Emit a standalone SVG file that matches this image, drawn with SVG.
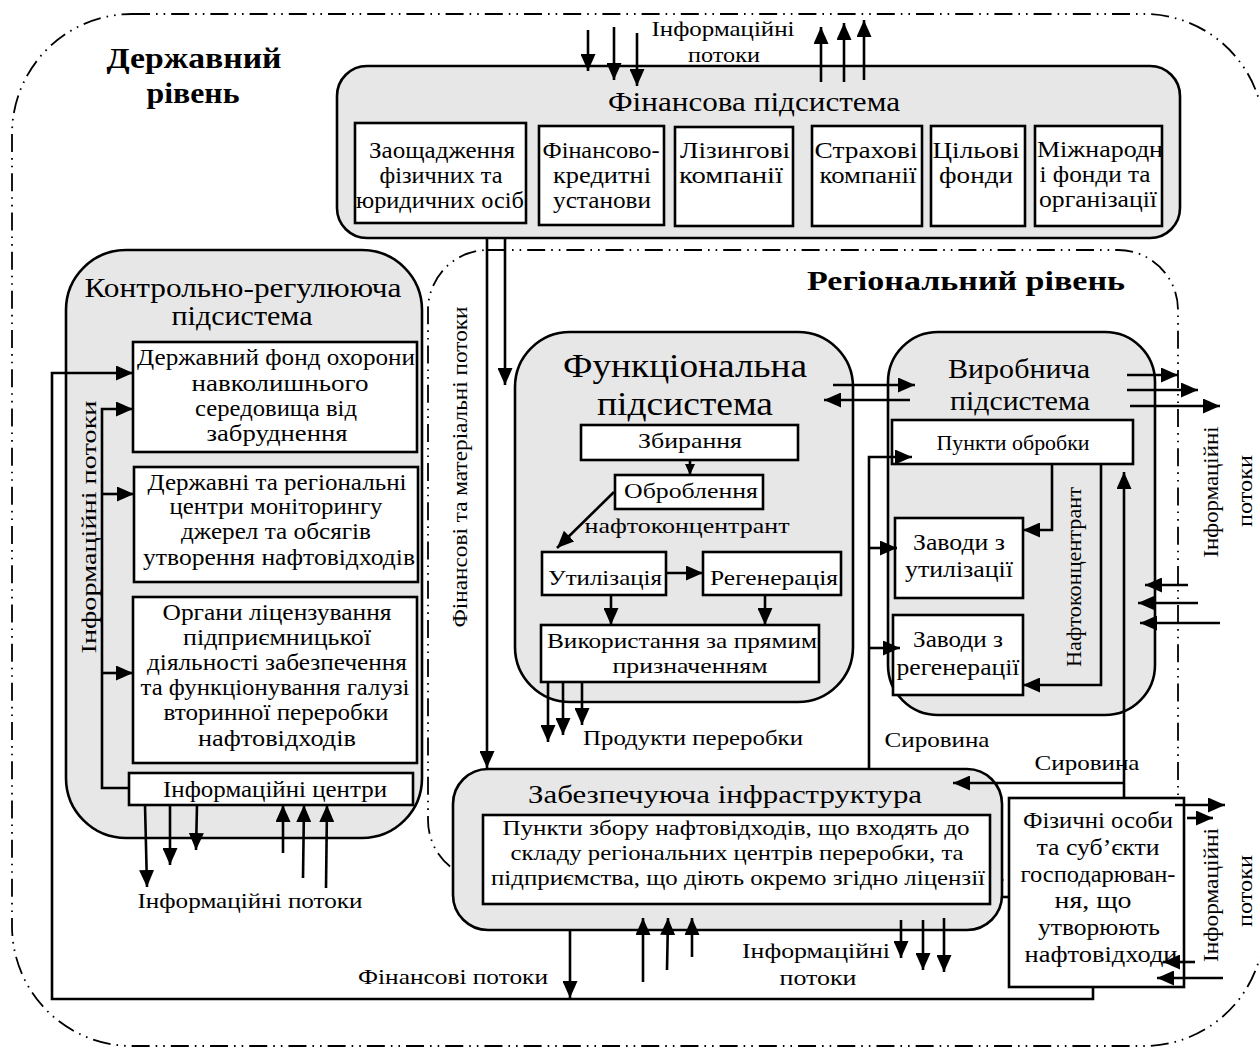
<svg xmlns="http://www.w3.org/2000/svg" width="1259" height="1051" viewBox="0 0 1259 1051">
  <style>
    text { font-family: "Liberation Serif", "Times New Roman", serif; fill: #000; }
    .t22 { font-size: 23px; }
    .t21 { font-size: 22px; }
    .t20 { font-size: 21px; }
    .title { font-size: 27px; }
    .lvlname { font-size: 29px; font-weight: bold; }
    .sub { fill: #e7e7e7; stroke: #000; stroke-width: 2.6; }
    .box { fill: #fff; stroke: #000; stroke-width: 2.6; }
    .lvl { fill: none; stroke: #000; stroke-width: 1.8; stroke-dasharray: 18 6 1.6 6 1.6 6; }
    .ln { fill: none; stroke: #000; stroke-width: 2.6; }
    .ar { marker-end: url(#ah); }
    .ars { marker-end: url(#ahs); }
  </style>
  <defs>
    <marker id="ah" markerUnits="userSpaceOnUse" markerWidth="17" markerHeight="15" refX="17" refY="7.5" orient="auto">
      <path d="M0,0 L17,7.5 L0,15 Z" fill="#000"/>
    </marker>
    <marker id="ahs" markerUnits="userSpaceOnUse" markerWidth="11" markerHeight="10" refX="11" refY="5" orient="auto">
      <path d="M0,0 L11,5 L0,10 Z" fill="#000"/>
    </marker>
  </defs>

  <rect width="1259" height="1051" fill="#fff"/>

  <!-- level boundaries -->
  <g id="state-level">
    <rect class="lvl" x="12" y="14" width="1252" height="1032" rx="120"/>
    <text class="lvlname" x="194" y="68" text-anchor="middle" textLength="175" lengthAdjust="spacingAndGlyphs">Державний</text>
    <text class="lvlname" x="193" y="103" text-anchor="middle" textLength="93" lengthAdjust="spacingAndGlyphs">рівень</text>
  </g>
  <g id="regional-level">
    <rect class="lvl" x="428" y="250" width="750" height="630" rx="60"/>
    <text class="lvlname" style="font-size:27px" x="966" y="290" text-anchor="middle" textLength="318" lengthAdjust="spacingAndGlyphs">Регіональний рівень</text>
  </g>

  <!-- financial subsystem -->
  <g id="financial">
    <rect class="sub" x="337" y="66" width="843" height="172" rx="30"/>
    <text class="title" x="754" y="111" text-anchor="middle" textLength="292" lengthAdjust="spacingAndGlyphs">Фінансова підсистема</text>
    <g id="fin-savings">
      <rect class="box" x="355" y="123" width="171" height="100"/>
      <text class="t22" x="442" y="158" text-anchor="middle" textLength="146" lengthAdjust="spacingAndGlyphs">Заощадження</text>
      <text class="t22" x="441" y="183" text-anchor="middle" textLength="123" lengthAdjust="spacingAndGlyphs">фізичних та</text>
      <text class="t22" x="440" y="208" text-anchor="middle" textLength="168" lengthAdjust="spacingAndGlyphs">юридичних осіб</text>
    </g>
    <g id="fin-credit">
      <rect class="box" x="539" y="126" width="125" height="99"/>
      <text class="t22" x="601" y="158" text-anchor="middle" textLength="117" lengthAdjust="spacingAndGlyphs">Фінансово-</text>
      <text class="t22" x="602" y="183" text-anchor="middle" textLength="98" lengthAdjust="spacingAndGlyphs">кредитні</text>
      <text class="t22" x="602" y="208" text-anchor="middle" textLength="98" lengthAdjust="spacingAndGlyphs">установи</text>
    </g>
    <g id="fin-leasing">
      <rect class="box" x="675" y="127" width="118" height="99"/>
      <text class="t22" x="735" y="158" text-anchor="middle" textLength="110" lengthAdjust="spacingAndGlyphs">Лізингові</text>
      <text class="t22" x="731" y="183" text-anchor="middle" textLength="104" lengthAdjust="spacingAndGlyphs">компанії</text>
    </g>
    <g id="fin-insurance">
      <rect class="box" x="812" y="126" width="110" height="100"/>
      <text class="t22" x="866" y="158" text-anchor="middle" textLength="103" lengthAdjust="spacingAndGlyphs">Страхові</text>
      <text class="t22" x="868" y="183" text-anchor="middle" textLength="97" lengthAdjust="spacingAndGlyphs">компанії</text>
    </g>
    <g id="fin-target">
      <rect class="box" x="931" y="126" width="94" height="100"/>
      <text class="t22" x="976" y="158" text-anchor="middle" textLength="87" lengthAdjust="spacingAndGlyphs">Цільові</text>
      <text class="t22" x="976" y="183" text-anchor="middle" textLength="74" lengthAdjust="spacingAndGlyphs">фонди</text>
    </g>
    <g id="fin-international">
      <rect class="box" x="1035" y="126" width="127" height="100"/>
      <text class="t22" x="1100" y="157" text-anchor="middle" textLength="126" lengthAdjust="spacingAndGlyphs">Міжнародн</text>
      <text class="t22" x="1095" y="182" text-anchor="middle" textLength="111" lengthAdjust="spacingAndGlyphs">і фонди та</text>
      <text class="t22" x="1098" y="207" text-anchor="middle" textLength="118" lengthAdjust="spacingAndGlyphs">організації</text>
    </g>
  </g>

  <!-- control and regulation subsystem -->
  <g id="control">
    <rect class="sub" x="66" y="250" width="356" height="588" rx="60"/>
    <text class="title" x="243" y="297" text-anchor="middle" textLength="317" lengthAdjust="spacingAndGlyphs">Контрольно-регулююча</text>
    <text class="title" x="242" y="325" text-anchor="middle" textLength="141" lengthAdjust="spacingAndGlyphs">підсистема</text>
    <g id="ctl-fund">
      <rect class="box" x="133" y="342" width="284" height="110"/>
      <text class="t22" x="276" y="365" text-anchor="middle" textLength="278" lengthAdjust="spacingAndGlyphs">Державний фонд охорони</text>
      <text class="t22" x="280" y="391" text-anchor="middle" textLength="177" lengthAdjust="spacingAndGlyphs">навколишнього</text>
      <text class="t22" x="276" y="416" text-anchor="middle" textLength="162" lengthAdjust="spacingAndGlyphs">середовища від</text>
      <text class="t22" x="277" y="441" text-anchor="middle" textLength="141" lengthAdjust="spacingAndGlyphs">забруднення</text>
    </g>
    <g id="ctl-monitoring">
      <rect class="box" x="134" y="467" width="284" height="115"/>
      <text class="t22" x="277" y="490" text-anchor="middle" textLength="259" lengthAdjust="spacingAndGlyphs">Державні та регіональні</text>
      <text class="t22" x="276" y="514" text-anchor="middle" textLength="213" lengthAdjust="spacingAndGlyphs">центри моніторингу</text>
      <text class="t22" x="276" y="539" text-anchor="middle" textLength="190" lengthAdjust="spacingAndGlyphs">джерел та обсягів</text>
      <text class="t22" x="279" y="565" text-anchor="middle" textLength="272" lengthAdjust="spacingAndGlyphs">утворення нафтовідходів</text>
    </g>
    <g id="ctl-licensing">
      <rect class="box" x="133" y="597" width="284" height="166"/>
      <text class="t22" x="277" y="620" text-anchor="middle" textLength="229" lengthAdjust="spacingAndGlyphs">Органи ліцензування</text>
      <text class="t22" x="277" y="645" text-anchor="middle" textLength="188" lengthAdjust="spacingAndGlyphs">підприємницької</text>
      <text class="t22" x="277" y="670" text-anchor="middle" textLength="260" lengthAdjust="spacingAndGlyphs">діяльності забезпечення</text>
      <text class="t22" x="275" y="695" text-anchor="middle" textLength="269" lengthAdjust="spacingAndGlyphs">та функціонування галузі</text>
      <text class="t22" x="276" y="720" text-anchor="middle" textLength="225" lengthAdjust="spacingAndGlyphs">вторинної переробки</text>
      <text class="t22" x="277" y="746" text-anchor="middle" textLength="158" lengthAdjust="spacingAndGlyphs">нафтовідходів</text>
    </g>
    <g id="ctl-infocenters">
      <rect class="box" x="129" y="773" width="284" height="32"/>
      <text class="t22" x="275" y="797" text-anchor="middle" textLength="224" lengthAdjust="spacingAndGlyphs">Інформаційні центри</text>
    </g>
    <text class="t21" transform="translate(89,527) rotate(-90)" x="0" y="7" text-anchor="middle" textLength="253" lengthAdjust="spacingAndGlyphs">Інформаційні потоки</text>
  </g>

  <!-- functional subsystem -->
  <g id="functional">
    <rect class="sub" x="515" y="332" width="338" height="370" rx="55"/>
    <text style="font-size:34px" x="685" y="377" text-anchor="middle" textLength="244" lengthAdjust="spacingAndGlyphs">Функціональна</text>
    <text style="font-size:34px" x="685" y="415" text-anchor="middle" textLength="176" lengthAdjust="spacingAndGlyphs">підсистема</text>
    <g id="fn-collect">
      <rect class="box" x="581" y="425" width="217" height="35"/>
      <text class="t21" x="690" y="448" text-anchor="middle" textLength="104" lengthAdjust="spacingAndGlyphs">Збирання</text>
    </g>
    <g id="fn-process">
      <rect class="box" x="615" y="475" width="148" height="34"/>
      <text class="t21" x="691" y="498" text-anchor="middle" textLength="134" lengthAdjust="spacingAndGlyphs">Оброблення</text>
    </g>
    <text class="t21" x="687" y="533" text-anchor="middle" textLength="205" lengthAdjust="spacingAndGlyphs">нафтоконцентрант</text>
    <g id="fn-utilize">
      <rect class="box" x="542" y="552" width="124" height="43"/>
      <text class="t21" x="605" y="585" text-anchor="middle" textLength="114" lengthAdjust="spacingAndGlyphs">Утилізація</text>
    </g>
    <g id="fn-regen">
      <rect class="box" x="703" y="552" width="138" height="43"/>
      <text class="t21" x="774" y="585" text-anchor="middle" textLength="128" lengthAdjust="spacingAndGlyphs">Регенерація</text>
    </g>
    <g id="fn-direct">
      <rect class="box" x="541" y="625" width="278" height="57"/>
      <text class="t21" x="682" y="648" text-anchor="middle" textLength="270" lengthAdjust="spacingAndGlyphs">Використання за прямим</text>
      <text class="t21" x="690" y="673" text-anchor="middle" textLength="155" lengthAdjust="spacingAndGlyphs">призначенням</text>
    </g>
  </g>

  <!-- production subsystem -->
  <g id="production">
    <rect class="sub" x="888" y="332" width="267" height="383" rx="50"/>
    <text style="font-size:28px" x="1019" y="378" text-anchor="middle" textLength="142" lengthAdjust="spacingAndGlyphs">Виробнича</text>
    <text style="font-size:28px" x="1020" y="410" text-anchor="middle" textLength="140" lengthAdjust="spacingAndGlyphs">підсистема</text>
    <g id="pr-points">
      <rect class="box" x="892" y="420" width="241" height="44"/>
      <text class="t20" x="1013" y="450" text-anchor="middle" textLength="153" lengthAdjust="spacingAndGlyphs">Пункти обробки</text>
    </g>
    <g id="pr-utilize">
      <rect class="box" x="895" y="518" width="128" height="80"/>
      <text class="t22" x="959" y="550" text-anchor="middle" textLength="92" lengthAdjust="spacingAndGlyphs">Заводи з</text>
      <text class="t22" x="959" y="577" text-anchor="middle" textLength="108" lengthAdjust="spacingAndGlyphs">утилізації</text>
    </g>
    <g id="pr-regen">
      <rect class="box" x="893" y="615" width="130" height="80"/>
      <text class="t22" x="958" y="647" text-anchor="middle" textLength="90" lengthAdjust="spacingAndGlyphs">Заводи з</text>
      <text class="t22" x="958" y="675" text-anchor="middle" textLength="123" lengthAdjust="spacingAndGlyphs">регенерації</text>
    </g>
    <text class="t20" transform="translate(1074,577) rotate(-90)" x="0" y="7" text-anchor="middle" textLength="180" lengthAdjust="spacingAndGlyphs">Нафтоконцентрант</text>
  </g>

  <!-- supporting infrastructure -->
  <g id="infrastructure">
    <rect class="sub" x="453" y="769" width="549" height="161" rx="35"/>
    <text style="font-size:26px" x="725" y="803" text-anchor="middle" textLength="394" lengthAdjust="spacingAndGlyphs">Забезпечуюча інфраструктура</text>
    <rect class="box" x="483" y="815" width="507" height="89"/>
    <text class="t21" x="736" y="835" text-anchor="middle" textLength="467" lengthAdjust="spacingAndGlyphs">Пункти збору нафтовідходів, що входять до</text>
    <text class="t21" x="737" y="860" text-anchor="middle" textLength="453" lengthAdjust="spacingAndGlyphs">складу регіональних центрів переробки, та</text>
    <text class="t21" x="738" y="885" text-anchor="middle" textLength="494" lengthAdjust="spacingAndGlyphs">підприємства, що діють окремо згідно ліцензії</text>
  </g>

  <!-- waste producers -->
  <g id="producers">
    <rect class="box" x="1009" y="798" width="175" height="189"/>
    <text class="t22" x="1098" y="828" text-anchor="middle" textLength="150" lengthAdjust="spacingAndGlyphs">Фізичні особи</text>
    <text class="t22" x="1098" y="855" text-anchor="middle" textLength="123" lengthAdjust="spacingAndGlyphs">та суб’єкти</text>
    <text class="t22" x="1098" y="882" text-anchor="middle" textLength="155" lengthAdjust="spacingAndGlyphs">господарюван-</text>
    <text class="t22" x="1093" y="908" text-anchor="middle" textLength="77" lengthAdjust="spacingAndGlyphs">ня, що</text>
    <text class="t22" x="1099" y="935" text-anchor="middle" textLength="122" lengthAdjust="spacingAndGlyphs">утворюють</text>
    <text class="t22" x="1101" y="962" text-anchor="middle" textLength="153" lengthAdjust="spacingAndGlyphs">нафтовідходи</text>
  </g>

  <!-- flow labels -->
  <g id="labels">
    <text class="t20" x="723" y="36" text-anchor="middle" textLength="143" lengthAdjust="spacingAndGlyphs">Інформаційні</text>
    <text class="t20" x="724" y="62" text-anchor="middle" textLength="72" lengthAdjust="spacingAndGlyphs">потоки</text>
    <text class="t21" transform="translate(460,467) rotate(-90)" x="0" y="7" text-anchor="middle" textLength="321" lengthAdjust="spacingAndGlyphs">Фінансові  та матеріальні потоки</text>
    <text class="t21" x="693" y="745" text-anchor="middle" textLength="220" lengthAdjust="spacingAndGlyphs">Продукти переробки</text>
    <text class="t21" x="250" y="908" text-anchor="middle" textLength="225" lengthAdjust="spacingAndGlyphs">Інформаційні потоки</text>
    <text class="t21" x="453" y="984" text-anchor="middle" textLength="190" lengthAdjust="spacingAndGlyphs">Фінансові потоки</text>
    <text class="t21" x="816" y="958" text-anchor="middle" textLength="148" lengthAdjust="spacingAndGlyphs">Інформаційні</text>
    <text class="t21" x="818" y="985" text-anchor="middle" textLength="77" lengthAdjust="spacingAndGlyphs">потоки</text>
    <text class="t20" x="937" y="747" text-anchor="middle" textLength="105" lengthAdjust="spacingAndGlyphs">Сировина</text>
    <text class="t20" x="1087" y="770" text-anchor="middle" textLength="105" lengthAdjust="spacingAndGlyphs">Сировина</text>
    <text class="t20" transform="translate(1211,492) rotate(-90)" x="0" y="7" text-anchor="middle" textLength="131" lengthAdjust="spacingAndGlyphs">Інформаційні</text>
    <text class="t20" transform="translate(1245,491) rotate(-90)" x="0" y="7" text-anchor="middle" textLength="72" lengthAdjust="spacingAndGlyphs">потоки</text>
    <text class="t20" transform="translate(1211,895) rotate(-90)" x="0" y="7" text-anchor="middle" textLength="134" lengthAdjust="spacingAndGlyphs">Інформаційні</text>
    <text class="t20" transform="translate(1245,891) rotate(-90)" x="0" y="7" text-anchor="middle" textLength="72" lengthAdjust="spacingAndGlyphs">потоки</text>
  </g>

  <!-- connectors -->
  <g id="connectors" class="ln">
    <!-- information flows at the financial subsystem -->
    <path class="ar" d="M588,30 V71"/>
    <path class="ar" d="M614,27 V80"/>
    <path class="ar" d="M637,33 V86"/>
    <path class="ar" d="M821,82 V27"/>
    <path class="ar" d="M844,82 V23"/>
    <path class="ar" d="M864,80 V20"/>
    <!-- financial and material flows -->
    <path class="ar" d="M487,238 V768"/>
    <path class="ar" d="M505,238 V385"/>
    <!-- functional / production exchange -->
    <path class="ar" d="M833,385 H915"/>
    <path class="ar" d="M910,400 H824"/>
    <!-- financial flow loop to the state fund -->
    <path class="ar" d="M1093,987 V999 H52 V373 H133"/>
    <!-- information bus of the control subsystem -->
    <path class="ar" d="M129,788 H102 V409 H133"/>
    <path class="ar" d="M102,494 H134"/>
    <path class="ar" d="M102,673 H133"/>
    <path class="ar" d="M145,805 L147,887"/>
    <path class="ar" d="M170,805 V865"/>
    <path class="ar" d="M197,805 L196,850"/>
    <path class="ar" d="M283,853 V805"/>
    <path class="ar" d="M303,878 L304,805"/>
    <path class="ar" d="M326,888 L327,805"/>
    <!-- functional subsystem internals -->
    <path class="ars" d="M690,460 V475"/>
    <path class="ar" d="M614,492 L557,548"/>
    <path class="ar" d="M666,573 H703"/>
    <path class="ar" d="M611,595 V625"/>
    <path class="ar" d="M765,595 V625"/>
    <path class="ar" d="M548,682 V742"/>
    <path class="ar" d="M563,682 V735"/>
    <path class="ar" d="M582,682 V725"/>
    <!-- production subsystem internals -->
    <path class="ar" d="M1052,464 V530 H1023"/>
    <path class="ar" d="M1101,464 V685 H1023"/>
    <path class="ar" d="M1127,375 H1178"/>
    <path class="ar" d="M1127,390 H1198"/>
    <path class="ar" d="M1130,406 H1220"/>
    <path class="ar" d="M1188,585 H1145"/>
    <path class="ar" d="M1198,603 H1138"/>
    <path class="ar" d="M1220,623 H1140"/>
    <!-- raw material flows -->
    <path class="ar" d="M869,770 V457 H912"/>
    <path class="ar" d="M869,548 H897"/>
    <path class="ar" d="M869,648 H900"/>
    <path class="ar" d="M1124,798 V472"/>
    <path class="ar" d="M1124,783 H953"/>
    <!-- infrastructure flows -->
    <path class="ar" d="M570,930 V998"/>
    <path class="ar" d="M643,982 V918"/>
    <path class="ar" d="M667,970 L668,918"/>
    <path class="ar" d="M692,957 V918"/>
    <path class="ar" d="M901,920 V958"/>
    <path class="ar" d="M923,920 V970"/>
    <path class="ar" d="M944,918 V972"/>
    <path d="M1002,897 H1009"/>
    <!-- information flows of waste producers -->
    <path class="ar" d="M1175,805 H1225"/>
    <path class="ar" d="M1187,818 H1213"/>
    <path class="ar" d="M1195,962 H1163"/>
    <path class="ar" d="M1223,978 H1157"/>
  </g>
</svg>
